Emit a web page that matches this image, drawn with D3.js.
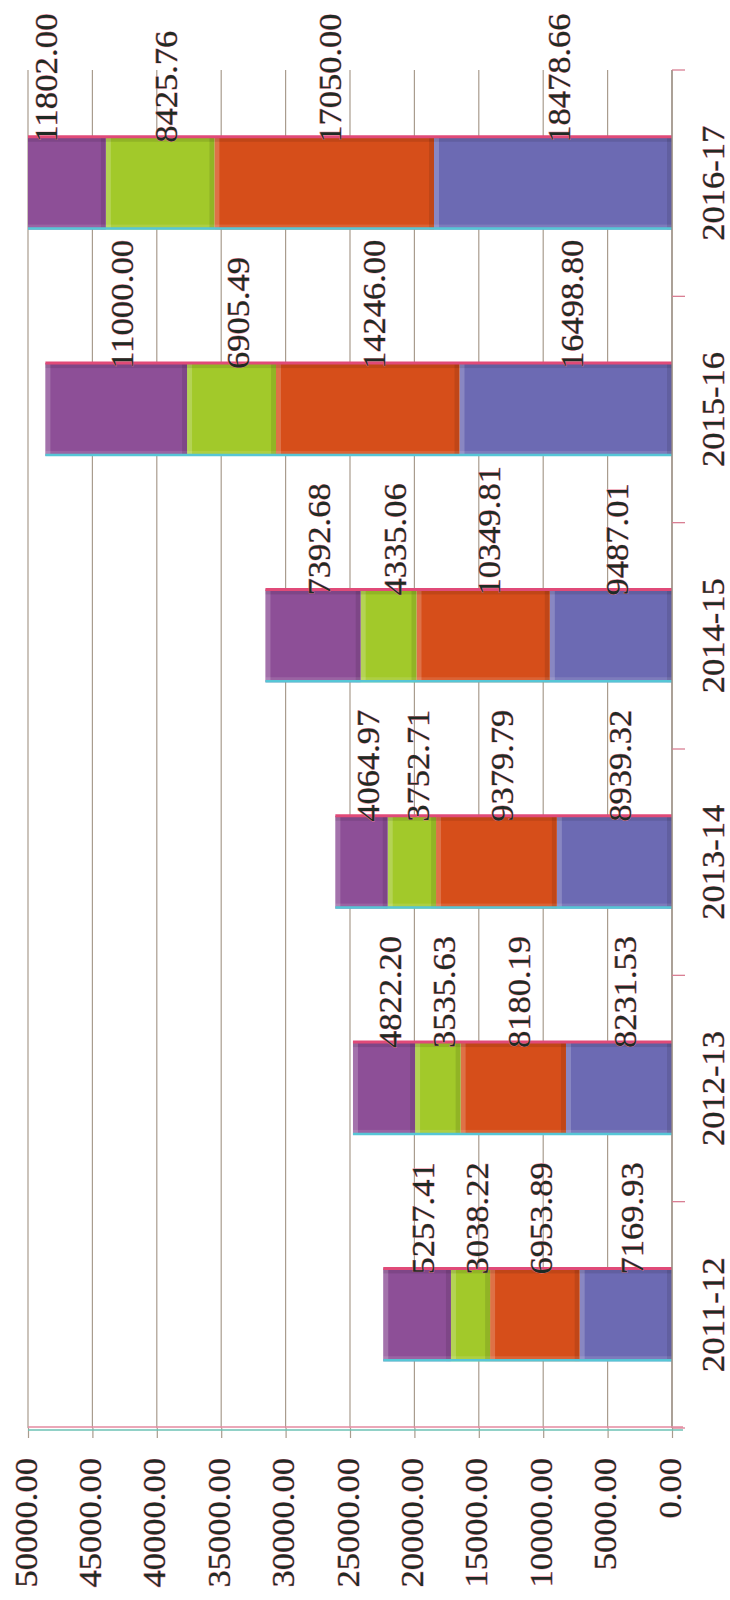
<!DOCTYPE html>
<html>
<head>
<meta charset="utf-8">
<script src="https://cdn.jsdelivr.net/npm/d3@7"></script>
<style>
  html, body { margin: 0; padding: 0; background: #ffffff; }
  svg { display: block; }
  text { font-family: "Liberation Serif", "Tinos", "Times New Roman", "Noto Serif", "DejaVu Serif", serif; }
</style>
</head>
<body>
<div id="chart"></div>
<script>
// ---------------- data ----------------
const categories = ["2011-12", "2012-13", "2013-14", "2014-15", "2015-16", "2016-17"];
const seriesKeys = ["s1", "s2", "s3", "s4"];
const series1 = [7169.93, 8231.53, 8939.32, 9487.01, 16498.80, 18478.66];   // blue (base)
const series2 = [6953.89, 8180.19, 9379.79, 10349.81, 14246.00, 17050.00];  // orange
const series3 = [3038.22, 3535.63, 3752.71, 4335.06, 6905.49, 8425.76];     // green
const series4 = [5257.41, 4822.20, 4064.97, 7392.68, 11000.00, 11802.00];   // purple (top)
const valueTicks = [0, 5000, 10000, 15000, 20000, 25000, 30000, 35000, 40000, 45000, 50000];
const valueMax = 50000;
const colors = {s1: "#6c6ab3", s2: "#d64e1a", s3: "#a2c92a", s4: "#8d4f97"};

const rows = categories.map((c, i) => ({cat: c, s1: series1[i], s2: series2[i], s3: series3[i], s4: series4[i]}));

// ---------------- layout (drawn as an unrotated column chart, then rotated -90deg) ----------------
const W = 730, H = 1600;
const FONT = 32;        // glyph size
const EM = 34.5;        // advance size (Times-like metrics)
const FF = "'Liberation Serif', 'Tinos', 'Times New Roman', 'Noto Serif', 'DejaVu Serif', serif";
function textLen(s) {
  let n = 0;
  for (const ch of s) n += (ch === "." ? 0.25 : ch === "-" ? 0.333 : 0.5);
  return n * EM;
}
function styleText(sel) {
  sel.attr("font-size", FONT).attr("font-family", FF).attr("fill", "#1f2b24")
     .attr("stroke", "#e87a92").attr("stroke-width", 0.7).attr("paint-order", "stroke")
     .attr("lengthAdjust", "spacingAndGlyphs")
     .attr("textLength", function() { return textLen(this.textContent); });
}

const svg = d3.select("#chart").append("svg").attr("width", W).attr("height", H);
const g = svg.append("g").attr("transform", `translate(0,${H}) rotate(-90)`);
// inside g: horizontal coordinate u = H - imageY, vertical coordinate v = imageX

const plotLeft = 172, plotRight = 1530, plotTop = 28, plotBottom = 672;

const x = d3.scaleBand().domain(categories).range([plotLeft, plotRight]).paddingInner(0.59).paddingOuter(0.295);
const y = d3.scaleLinear().domain([0, valueMax]).range([plotBottom, plotTop]);

const defs = svg.append("defs");
defs.append("clipPath").attr("id", "plotclip").append("rect")
  .attr("x", plotLeft).attr("y", plotTop).attr("width", plotRight - plotLeft).attr("height", plotBottom - plotTop);

// gridlines
g.append("g").selectAll("line").data(valueTicks).join("line")
  .attr("x1", plotLeft).attr("x2", plotRight)
  .attr("y1", d => y(d)).attr("y2", d => y(d))
  .attr("stroke", "#a99c8e").attr("stroke-width", 1.2);

// stacked bars
const stack = d3.stack().keys(seriesKeys)(rows);
const barsG = g.append("g").attr("clip-path", "url(#plotclip)");
const bw = x.bandwidth();
const bev = 5;
stack.forEach(layer => {
  const key = layer.key;
  const lg = barsG.append("g");
  layer.forEach(seg => {
    const cat = seg.data.cat;
    const x0 = x(cat);
    const yTop = y(seg[1]), yBot = y(seg[0]);
    const h = yBot - yTop;
    lg.append("rect").attr("x", x0).attr("y", yTop).attr("width", bw).attr("height", h).attr("fill", colors[key]);
    lg.append("rect").attr("x", x0).attr("y", yTop).attr("width", bw).attr("height", bev).attr("fill", "#ffffff").attr("opacity", 0.2);
    lg.append("rect").attr("x", x0).attr("y", yTop).attr("width", bev).attr("height", h).attr("fill", "#ffffff").attr("opacity", 0.12);
    lg.append("rect").attr("x", x0).attr("y", yBot - bev).attr("width", bw).attr("height", bev).attr("fill", "#000000").attr("opacity", 0.1);
    lg.append("rect").attr("x", x0 + bw - bev).attr("y", yTop).attr("width", bev).attr("height", h).attr("fill", "#000000").attr("opacity", 0.1);
  });
});

// coloured fringes along the long edges of every bar
const totals = rows.map(r => seriesKeys.reduce((s, k) => s + r[k], 0));
barsG.append("g").selectAll("line").data(rows).join("line")
  .attr("x1", d => x(d.cat) + bw).attr("x2", d => x(d.cat) + bw)
  .attr("y1", y(0)).attr("y2", (d, i) => y(Math.min(totals[i], valueMax)))
  .attr("stroke", "#e04a78").attr("stroke-width", 3);
barsG.append("g").selectAll("line").data(rows).join("line")
  .attr("x1", d => x(d.cat) + 1).attr("x2", d => x(d.cat) + 1)
  .attr("y1", y(0)).attr("y2", (d, i) => y(Math.min(totals[i], valueMax)))
  .attr("stroke", "#56c6d6").attr("stroke-width", 2.5);

// category axis (image right side)
g.append("line").attr("x1", plotLeft).attr("x2", plotRight).attr("y1", plotBottom).attr("y2", plotBottom)
  .attr("stroke", "#9a8e84").attr("stroke-width", 1.3);
const boundaries = d3.range(categories.length + 1).map(i => x.range()[0] + i * x.step());
g.append("g").selectAll("line").data(boundaries).join("line")
  .attr("x1", d => d).attr("x2", d => d).attr("y1", plotBottom).attr("y2", plotBottom + 13)
  .attr("stroke", "#d97f93").attr("stroke-width", 1.3);
const xAxis = g.append("g").attr("transform", `translate(0,${plotBottom})`)
  .call(d3.axisBottom(x).tickSize(0).tickPadding(29));
xAxis.select(".domain").remove();
xAxis.selectAll("text").call(styleText);

// value axis (image bottom)
const yAxis = g.append("g").attr("transform", `translate(${plotLeft},0)`)
  .call(d3.axisLeft(y).tickValues(valueTicks).tickFormat(d3.format(".2f")).tickSize(10).tickPadding(20));
yAxis.select(".domain").remove();
yAxis.selectAll(".tick line").attr("stroke", "#a99c8e").attr("stroke-width", 1.2);
yAxis.selectAll("text").attr("dy", "0.25em").call(styleText);
g.append("line").attr("x1", plotLeft + 1).attr("x2", plotLeft + 1).attr("y1", plotTop).attr("y2", plotBottom + 11)
  .attr("stroke", "#e58aa0").attr("stroke-width", 1.6);
g.append("line").attr("x1", plotLeft - 2).attr("x2", plotLeft - 2).attr("y1", plotTop).attr("y2", plotBottom + 11)
  .attr("stroke", "#6cc2b4").attr("stroke-width", 1.3);

// data labels
const fmt = d3.format(".2f");
const labelsG = g.append("g");
stack.forEach(layer => {
  layer.forEach(seg => {
    const cat = seg.data.cat;
    const mid = (y(seg[0]) + y(seg[1])) / 2;
    const v = Math.max(mid + 6, plotTop + 18);
    labelsG.append("text")
      .attr("x", x(cat) + bw - 6)
      .attr("y", v)
      .attr("dominant-baseline", "central")
      .attr("text-anchor", "start")
      .text(fmt(seg.data[layer.key]))
      .call(styleText);
  });
});
</script>
</body>
</html>
